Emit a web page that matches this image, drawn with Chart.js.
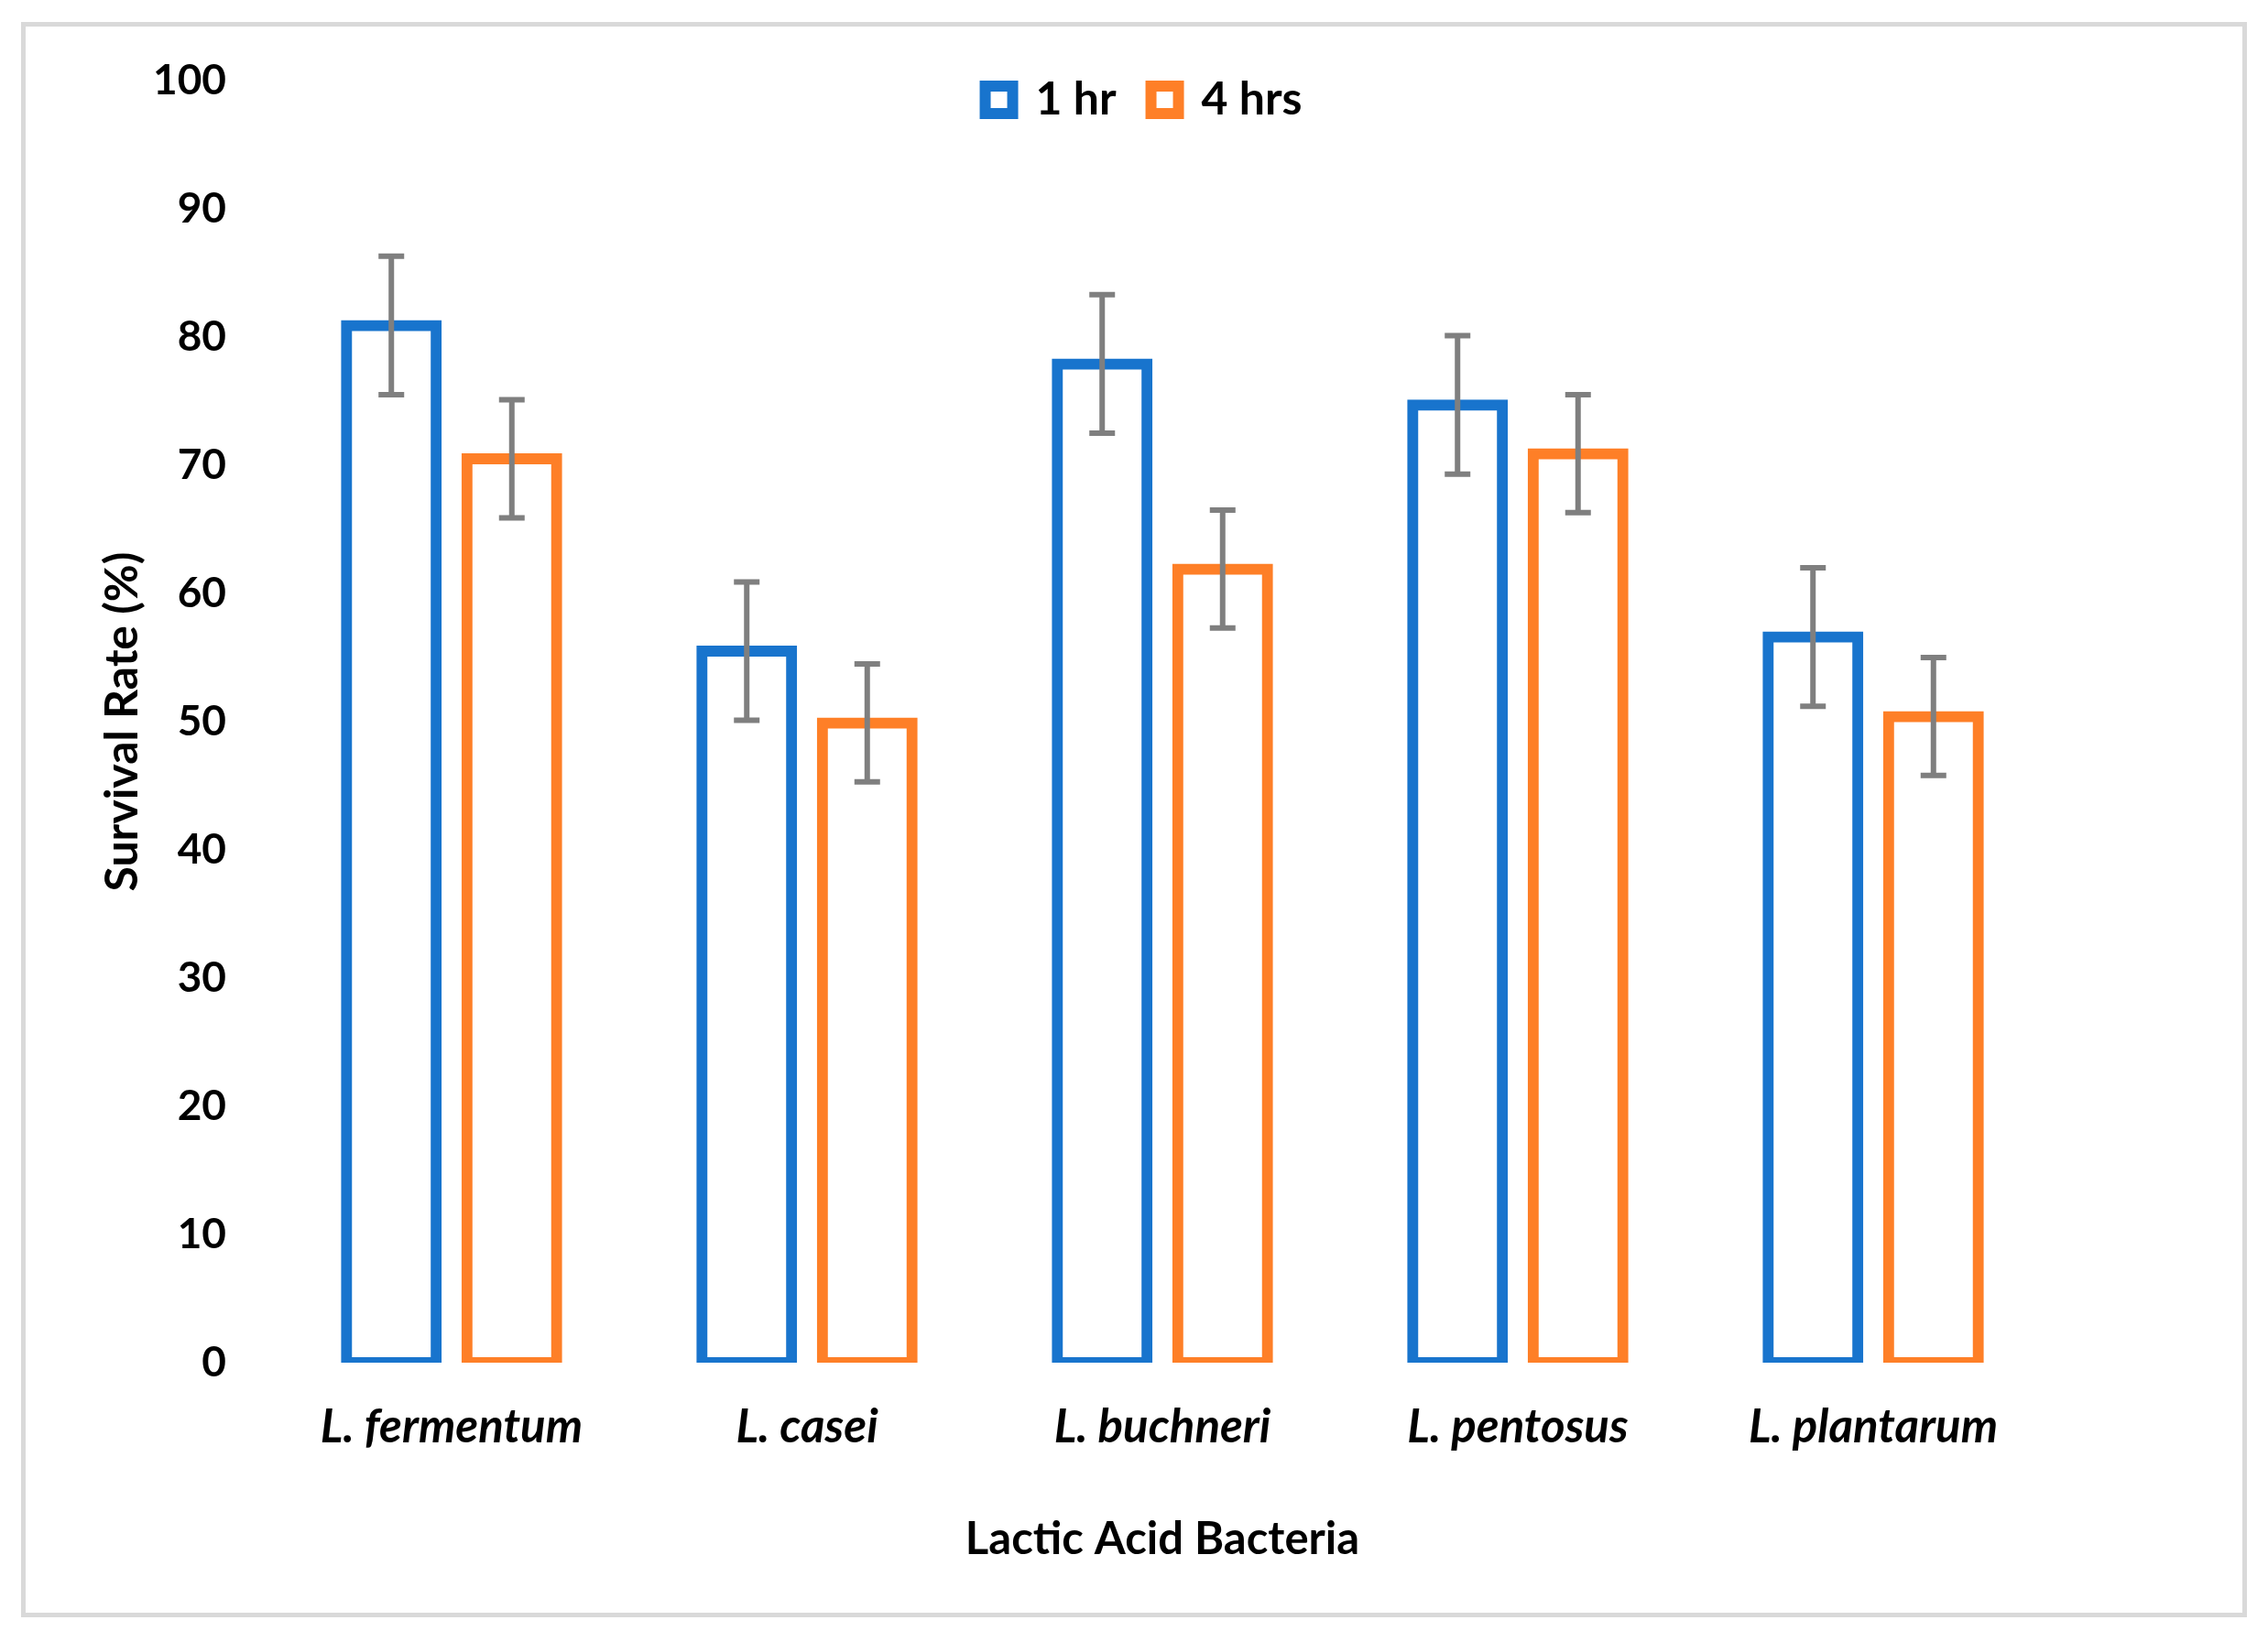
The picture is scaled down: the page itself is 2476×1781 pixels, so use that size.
<!DOCTYPE html>
<html lang="en">
<head>
    <meta charset="UTF-8">
    <title>Survival Rate of Lactic Acid Bacteria</title>
    <script src="https://cdn.jsdelivr.net/npm/chart.js"></script>
    <style>
        body {
            margin: 0;
            background: #ffffff;
            overflow: hidden;
        }
        #frame {
            position: absolute;
            left: 23px;
            top: 24px;
            width: 2430px;
            height: 1742px;
            box-sizing: border-box;
            border: 5px solid #d9d9d9;
        }
        #chart {
            position: absolute;
            left: 0;
            top: 0;
        }
    </style>
</head>
<body>
    <div id="frame"></div>
    <canvas id="chart" width="2476" height="1781"></canvas>

    <script>
        // Daten
        const categories = ['L. fermentum', 'L. casei', 'L. buchneri', 'L. pentosus', 'L. plantarum'];
        const seriesNames = ['1 hr', '4 hrs'];
        const oneHour = [80.9, 55.5, 77.9, 74.7, 56.6];
        const fourHours = [70.5, 49.9, 61.9, 70.9, 50.4];
        const oneHourErr = [5.4, 5.4, 5.4, 5.4, 5.4];
        const fourHoursErr = [4.6, 4.6, 4.6, 4.6, 4.6];
        const yTicks = [0, 10, 20, 30, 40, 50, 60, 70, 80, 90, 100];

        const BLUE = '#1874cd';
        const ORANGE = '#fe7f27';
        const FONT = 'Lato';

        // Fehlerbalken
        const errorBars = {
            id: 'errorBars',
            afterDatasetsDraw(chart) {
                const ctx = chart.ctx;
                const y = chart.scales.y;
                ctx.save();
                ctx.strokeStyle = '#7f7f7f';
                ctx.lineWidth = 6;
                ctx.lineCap = 'butt';
                chart.data.datasets.forEach((ds, i) => {
                    const meta = chart.getDatasetMeta(i);
                    meta.data.forEach((bar, j) => {
                        const v = ds.data[j];
                        const e = ds.errors[j];
                        const top = y.getPixelForValue(v + e);
                        const bot = y.getPixelForValue(v - e);
                        ctx.beginPath();
                        ctx.moveTo(bar.x, top);
                        ctx.lineTo(bar.x, bot);
                        ctx.moveTo(bar.x - 14, top);
                        ctx.lineTo(bar.x + 14, top);
                        ctx.moveTo(bar.x - 14, bot);
                        ctx.lineTo(bar.x + 14, bot);
                        ctx.stroke();
                    });
                });
                ctx.restore();
            }
        };

        // Legende liegt im Original über dem Plotbereich: keine Höhe reservieren, dann verschieben
        const legendOverlay = {
            id: 'legendOverlay',
            afterInit(chart) {
                const lg = chart.legend;
                const fit = lg.fit;
                lg.fit = function () {
                    fit.call(this);
                    this._fullHeight = this.height;
                    this.height = 0;
                };
            },
            afterLayout(chart) {
                const lg = chart.legend;
                lg.top -= 42;
                lg.height = lg._fullHeight + 40;
                lg.bottom = lg.top + lg.height;
                lg.left += 77;
                lg.right += 77;
            }
        };

        const ctx = document.getElementById('chart').getContext('2d');
        new Chart(ctx, {
            type: 'bar',
            data: {
                labels: categories,
                datasets: [
                    {
                        label: seriesNames[0],
                        data: oneHour,
                        errors: oneHourErr,
                        backgroundColor: '#ffffff',
                        borderColor: BLUE,
                        borderWidth: 12,
                        borderSkipped: false,
                        inflateAmount: 6
                    },
                    {
                        label: seriesNames[1],
                        data: fourHours,
                        errors: fourHoursErr,
                        backgroundColor: '#ffffff',
                        borderColor: ORANGE,
                        borderWidth: 12,
                        borderSkipped: false,
                        inflateAmount: 6
                    }
                ]
            },
            options: {
                responsive: false,
                animation: false,
                devicePixelRatio: 1,
                categoryPercentage: 0.678,
                barPercentage: 0.745,
                layout: {
                    padding: { left: 104, right: 237, top: 88, bottom: 70 }
                },
                plugins: {
                    tooltip: { enabled: false },
                    legend: {
                        position: 'top',
                        labels: {
                            boxWidth: 30,
                            boxHeight: 30,
                            padding: 38,
                            color: '#000000',
                            font: { family: FONT, size: 50, weight: 'bold' }
                        }
                    }
                },
                scales: {
                    x: {
                        grid: { display: false, drawTicks: false },
                        border: { display: false },
                        ticks: {
                            padding: 40,
                            color: '#000000',
                            font: { family: FONT, size: 51, weight: 'bold', style: 'italic' }
                        },
                        title: {
                            display: true,
                            text: 'Lactic Acid Bacteria',
                            color: '#000000',
                            font: { family: FONT, size: 49, weight: 'bold' },
                            padding: { top: 0, bottom: 0 }
                        },
                        afterFit(scale) {
                            scale.height = 223;
                        }
                    },
                    y: {
                        min: 0,
                        max: 100,
                        grid: { display: false, drawTicks: false },
                        border: { display: false },
                        afterBuildTicks(scale) {
                            scale.ticks = yTicks.map(v => ({ value: v }));
                        },
                        ticks: {
                            padding: 52,
                            color: '#000000',
                            font: { family: FONT, size: 46, weight: 'bold' }
                        },
                        title: {
                            display: true,
                            text: 'Survival Rate (%)',
                            color: '#000000',
                            font: { family: FONT, size: 50, weight: 'bold' },
                            padding: { top: 0, bottom: 0 }
                        },
                        afterFit(scale) {
                            scale.width = 195;
                        }
                    }
                }
            },
            plugins: [errorBars, legendOverlay]
        });
    </script>
</body>
</html>
